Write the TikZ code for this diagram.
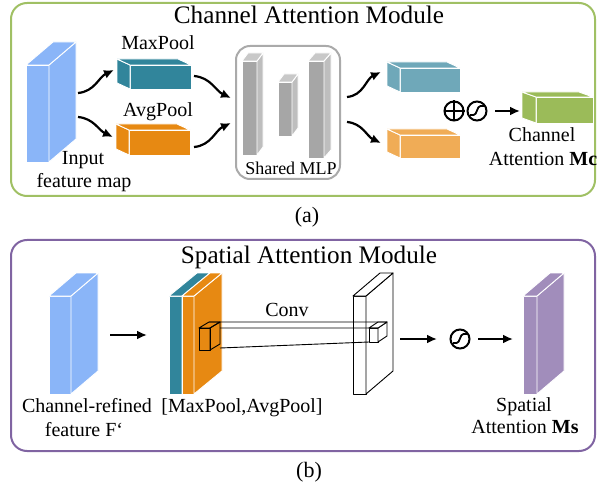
\documentclass[tikz,border=0pt]{standalone}
\usepackage{fontspec}
\setmainfont{Liberation Serif}
\usetikzlibrary{arrows.meta}

\definecolor{mapblue}{RGB}{138,181,248}
\definecolor{poolteal}{RGB}{49,133,155}
\definecolor{poolorange}{RGB}{231,137,18}
\definecolor{lightteal}{RGB}{111,168,185}
\definecolor{lightorange}{RGB}{240,172,86}
\definecolor{attgreen}{RGB}{155,187,89}
\definecolor{mlpgray}{RGB}{166,166,166}
\definecolor{mlpgrayside}{RGB}{190,190,190}
\definecolor{mlpgraytop}{RGB}{200,200,200}
\definecolor{attpurple}{RGB}{161,141,187}
\definecolor{greenframe}{RGB}{160,192,100}
\definecolor{purpleframe}{RGB}{128,100,162}
\definecolor{grayframe}{RGB}{170,170,170}

% cuboid whose depth recedes to the upper right
% #1,#2 front top-left corner, #3,#4 front width/height, #5,#6 depth offset,
% #7 front style, #8 side style, #9 top style
\newcommand{\cuboidR}[9]{%
  \path[#7] (#1,#2) rectangle ({#1+#3},{#2+#4});
  \path[#8] ({#1+#3},#2) -- ({#1+#3+#5},{#2+#6}) -- ({#1+#3+#5},{#2+#4+#6}) -- ({#1+#3},{#2+#4}) -- cycle;
  \path[#9] (#1,#2) -- ({#1+#5},{#2+#6}) -- ({#1+#3+#5},{#2+#6}) -- ({#1+#3},#2) -- cycle;
}
% cuboid whose depth recedes to the upper left
\newcommand{\cuboidL}[9]{%
  \path[#7] (#1,#2) rectangle ({#1+#3},{#2+#4});
  \path[#8] (#1,#2) -- ({#1+#5},{#2+#6}) -- ({#1+#5},{#2+#4+#6}) -- (#1,{#2+#4}) -- cycle;
  \path[#9] (#1,#2) -- ({#1+#5},{#2+#6}) -- ({#1+#3+#5},{#2+#6}) -- ({#1+#3},#2) -- cycle;
}

\tikzset{
  face/.style={fill=#1, draw=white, line width=0.9pt, line join=round},
  wire/.style={draw=black, line width=0.9pt, line join=round},
  wirefill/.style={fill=white, draw=black, line width=0.9pt, line join=round},
  flow/.style={-{Latex[length=10pt,width=9pt]}, line width=2.2pt},
  title/.style={anchor=base, font=\fontsize{25.2}{29}\selectfont},
  lbl/.style={anchor=base, font=\fontsize{20}{23}\selectfont, inner sep=0pt},
  small/.style={anchor=base, font=\fontsize{18}{21}\selectfont, inner sep=0pt},
  op/.style={circle, draw=black, line width=2pt, minimum size=19pt, inner sep=0pt},
}

\begin{document}
\begin{tikzpicture}[x=1pt,y=-1pt]
\useasboundingbox (0,0) rectangle (597,489);

% ---------------- Channel attention module ----------------
\draw[greenframe, line width=2pt, rounded corners=16pt] (11,3) rectangle (595,196);
\node[title] (camtitle) at (309,24) {Channel Attention Module};

% input feature map
\cuboidR{26}{65}{23}{97}{27}{-23}{face=mapblue}{face=mapblue}{face=mapblue}
\node[lbl] (inlbl1) at (83,165) {Input};
\node[lbl] (inlbl2) at (84,188) {feature map};

% pooled descriptors
\cuboidL{130}{65}{61}{24}{-13}{-6}{face=poolteal}{face=poolteal}{face=poolteal}
\cuboidL{129}{130}{61}{25}{-13}{-6}{face=poolorange}{face=poolorange}{face=poolorange}
\node[lbl] (maxlbl) at (158,50) {MaxPool};
\node[lbl] (avglbl) at (158,117) {AvgPool};

% shared MLP
\draw[grayframe, line width=2pt, rounded corners=14pt] (236,46) rectangle (340,179);
\cuboidR{242}{61}{15}{94}{6}{-8}{face=mlpgray}{face=mlpgrayside}{face=mlpgraytop}
\cuboidR{278}{82}{14}{54}{6}{-8}{face=mlpgray}{face=mlpgrayside}{face=mlpgraytop}
\cuboidR{308}{61}{16}{97}{7}{-8}{face=mlpgray}{face=mlpgrayside}{face=mlpgraytop}
\node[small] (mlplbl) at (291,175) {Shared MLP};

% MLP outputs
\cuboidL{400}{68}{60}{24}{-13}{-6}{face=lightteal}{face=lightteal}{face=lightteal}
\cuboidL{400}{135}{60}{23}{-13}{-6}{face=lightorange}{face=lightorange}{face=lightorange}

% sum and sigmoid
\node[op] (plus) at (454,111) {};
\draw[line width=2pt] (plus.north) -- (plus.south) (plus.west) -- (plus.east);
\node[op] (sigA) at (477,111) {};
\draw[line width=1.8pt, rounded corners=1.5pt]
  ([shift={(-7,4)}]sigA.center) -- ([shift={(-2,4)}]sigA.center)
  -- ([shift={(2,-5)}]sigA.center) -- ([shift={(8,-5)}]sigA.center);

% channel attention map
\cuboidL{536}{97}{57}{26}{-14}{-5}{face=attgreen}{face=attgreen}{face=attgreen}
\node[lbl] (mclbl1) at (542,142) {Channel};
\node[lbl] (mclbl2) at (543,166) {Attention \textbf{Mc}};

% connector end points
\coordinate (inA) at (78,93);   \coordinate (maxIn) at (114,70);
\coordinate (inB) at (78,117);  \coordinate (avgIn) at (113,137);
\coordinate (maxOut) at (194,76);  \coordinate (mlpInA) at (231,98);
\coordinate (avgOut) at (194,147); \coordinate (mlpInB) at (231,123);
\coordinate (mlpOutA) at (347,97);  \coordinate (tealIn) at (381,72);
\coordinate (mlpOutB) at (347,122); \coordinate (orIn) at (381,143);
\coordinate (sigAout) at (495,111); \coordinate (mcIn) at (520,111);

\draw[flow] (inA) to[out=5,in=205] (maxIn);
\draw[flow] (inB) to[out=-5,in=155] (avgIn);
\draw[flow] (maxOut) to[out=-5,in=155] (mlpInA);
\draw[flow] (avgOut) to[out=5,in=205] (mlpInB);
\draw[flow] (mlpOutA) to[out=5,in=205] (tealIn);
\draw[flow] (mlpOutB) to[out=-5,in=155] (orIn);
\draw[flow] (sigAout) -- (mcIn);

\node[anchor=base, font=\fontsize{22}{26}\selectfont] (capa) at (307,223) {(a)};

% ---------------- Spatial attention module ----------------
\draw[purpleframe, line width=2pt, rounded corners=16pt] (11,240) rectangle (595,451);
\node[title] (samtitle) at (309,263) {Spatial Attention Module};

% channel-refined feature
\cuboidR{49}{296}{22}{98}{27}{-23}{face=mapblue}{face=mapblue}{face=mapblue}
\node[lbl] (frlbl1) at (87,412) {Channel-refined};
\node[lbl] (frlbl2) at (84,436) {feature F\symbol{96}};

% pooled maps stacked
\cuboidR{169}{296}{13}{98}{28}{-23}{face=poolteal}{face=poolteal}{face=poolteal}
\cuboidR{182}{296}{12}{98}{28}{-23}{face=poolorange}{face=poolorange}{face=poolorange}
\node[lbl] (poollbl) at (242,412) {[MaxPool,AvgPool]};

% conv output plane
\cuboidR{353}{296}{13}{98}{27}{-23}{wirefill}{wirefill}{wirefill}

% conv kernel and receptive field
\cuboidR{199}{328}{11}{22}{10}{-6}{wire}{wire}{wire}
\cuboidR{369}{328}{9}{14}{9}{-6}{wirefill}{wirefill}{wirefill}
\coordinate (kA) at (209,322); \coordinate (tA) at (387,322);
\coordinate (kB) at (220,328); \coordinate (tB) at (378,328);
\coordinate (kC) at (220,348); \coordinate (tC) at (369,342);
\draw[line width=0.9pt] (kA) -- (tA) (kB) -- (tB) (kC) -- (tC);
\node[lbl] (convlbl) at (287,316) {Conv};

% sigmoid
\node[op] (sigB) at (460,339) {};
\draw[line width=1.8pt, rounded corners=1.5pt]
  ([shift={(-7,4)}]sigB.center) -- ([shift={(-2,4)}]sigB.center)
  -- ([shift={(2,-5)}]sigB.center) -- ([shift={(8,-5)}]sigB.center);

% spatial attention map
\cuboidR{523}{296}{14}{98}{27}{-23}{face=attpurple}{face=attpurple}{face=attpurple}
\node[lbl] (mslbl1) at (524,411) {Spatial};
\node[lbl] (mslbl2) at (525,433) {Attention \textbf{Ms}};

\coordinate (frOut) at (110,335);  \coordinate (poolIn) at (147,335);
\coordinate (planeOut) at (400,339); \coordinate (sigBin) at (437,339);
\coordinate (sigBout) at (478,339); \coordinate (msIn) at (513,339);
\draw[flow] (frOut) -- (poolIn);
\draw[flow] (planeOut) -- (sigBin);
\draw[flow] (sigBout) -- (msIn);

\node[anchor=base, font=\fontsize{22}{26}\selectfont] (capb) at (309,477) {(b)};
\end{tikzpicture}
\end{document}
